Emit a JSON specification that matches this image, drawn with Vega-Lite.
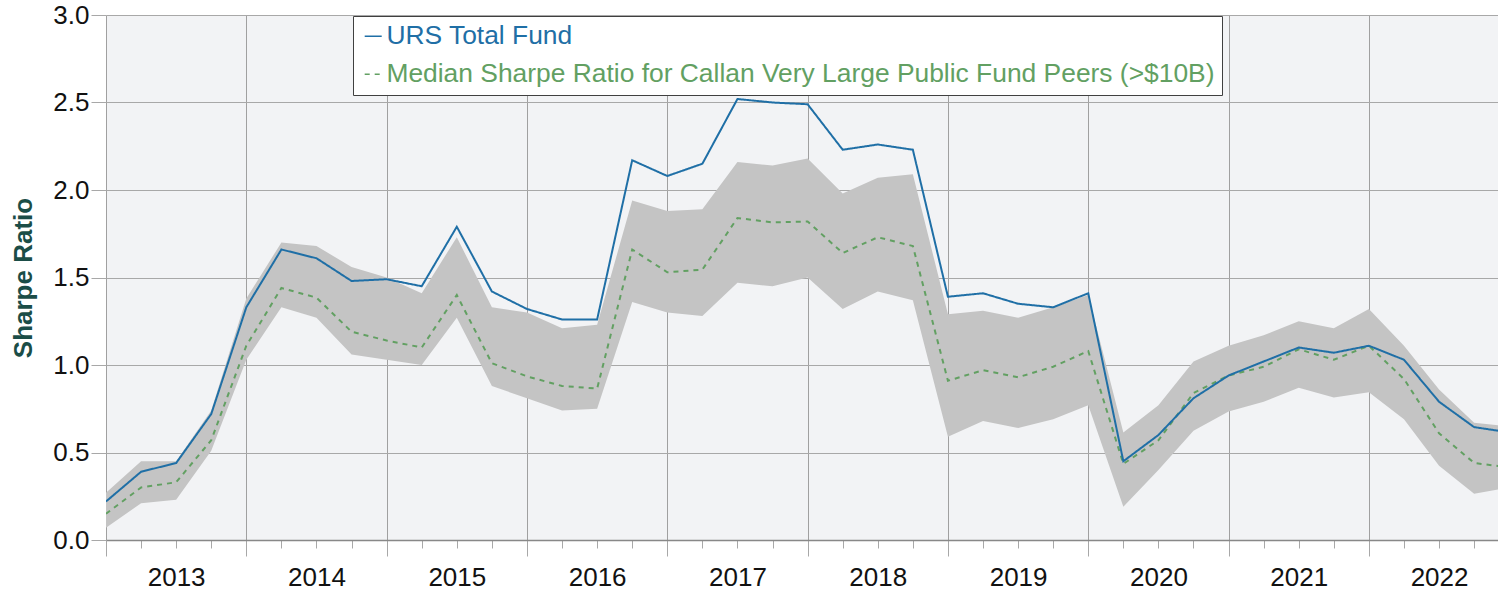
{
  "$schema": "https://vega.github.io/schema/vega-lite/v6.json",
  "width": 1392,
  "height": 525,
  "autosize": {"type": "none"},
  "padding": {"left": 106, "top": 15, "right": 0, "bottom": 55},
  "background": "white",
  "config": {
    "font": "Liberation Sans",
    "view": {"stroke": null, "fill": "#f2f3f5"}
  },
  "data": {
    "values": [
      {"q": 2013.00, "urs": 0.22, "median": 0.15, "low": 0.07, "high": 0.27},
      {"q": 2013.25, "urs": 0.39, "median": 0.30, "low": 0.21, "high": 0.45},
      {"q": 2013.50, "urs": 0.44, "median": 0.33, "low": 0.23, "high": 0.45},
      {"q": 2013.75, "urs": 0.72, "median": 0.57, "low": 0.51, "high": 0.74},
      {"q": 2014.00, "urs": 1.33, "median": 1.11, "low": 1.03, "high": 1.38},
      {"q": 2014.25, "urs": 1.66, "median": 1.44, "low": 1.33, "high": 1.70},
      {"q": 2014.50, "urs": 1.61, "median": 1.385, "low": 1.27, "high": 1.68},
      {"q": 2014.75, "urs": 1.48, "median": 1.19, "low": 1.06, "high": 1.56},
      {"q": 2015.00, "urs": 1.49, "median": 1.14, "low": 1.03, "high": 1.50},
      {"q": 2015.25, "urs": 1.45, "median": 1.10, "low": 1.00, "high": 1.41},
      {"q": 2015.50, "urs": 1.79, "median": 1.40, "low": 1.27, "high": 1.73},
      {"q": 2015.75, "urs": 1.42, "median": 1.01, "low": 0.88, "high": 1.33},
      {"q": 2016.00, "urs": 1.32, "median": 0.935, "low": 0.81, "high": 1.30},
      {"q": 2016.25, "urs": 1.26, "median": 0.88, "low": 0.74, "high": 1.21},
      {"q": 2016.50, "urs": 1.26, "median": 0.865, "low": 0.75, "high": 1.23},
      {"q": 2016.75, "urs": 2.17, "median": 1.66, "low": 1.36, "high": 1.94},
      {"q": 2017.00, "urs": 2.08, "median": 1.53, "low": 1.30, "high": 1.88},
      {"q": 2017.25, "urs": 2.15, "median": 1.545, "low": 1.28, "high": 1.89},
      {"q": 2017.50, "urs": 2.52, "median": 1.84, "low": 1.47, "high": 2.16},
      {"q": 2017.75, "urs": 2.50, "median": 1.815, "low": 1.45, "high": 2.14},
      {"q": 2018.00, "urs": 2.49, "median": 1.82, "low": 1.50, "high": 2.18},
      {"q": 2018.25, "urs": 2.23, "median": 1.64, "low": 1.32, "high": 1.98},
      {"q": 2018.50, "urs": 2.26, "median": 1.73, "low": 1.42, "high": 2.07},
      {"q": 2018.75, "urs": 2.23, "median": 1.68, "low": 1.37, "high": 2.09},
      {"q": 2019.00, "urs": 1.39, "median": 0.91, "low": 0.59, "high": 1.29},
      {"q": 2019.25, "urs": 1.41, "median": 0.97, "low": 0.68, "high": 1.31},
      {"q": 2019.50, "urs": 1.35, "median": 0.93, "low": 0.64, "high": 1.27},
      {"q": 2019.75, "urs": 1.33, "median": 0.99, "low": 0.69, "high": 1.33},
      {"q": 2020.00, "urs": 1.41, "median": 1.08, "low": 0.77, "high": 1.40},
      {"q": 2020.25, "urs": 0.45, "median": 0.435, "low": 0.19, "high": 0.615},
      {"q": 2020.50, "urs": 0.60, "median": 0.57, "low": 0.40, "high": 0.77},
      {"q": 2020.75, "urs": 0.81, "median": 0.84, "low": 0.625, "high": 1.02},
      {"q": 2021.00, "urs": 0.94, "median": 0.94, "low": 0.735, "high": 1.11},
      {"q": 2021.25, "urs": 1.02, "median": 0.99, "low": 0.79, "high": 1.17},
      {"q": 2021.50, "urs": 1.10, "median": 1.09, "low": 0.87, "high": 1.25},
      {"q": 2021.75, "urs": 1.07, "median": 1.03, "low": 0.815, "high": 1.21},
      {"q": 2022.00, "urs": 1.11, "median": 1.11, "low": 0.845, "high": 1.32},
      {"q": 2022.25, "urs": 1.03, "median": 0.92, "low": 0.69, "high": 1.11},
      {"q": 2022.50, "urs": 0.79, "median": 0.61, "low": 0.425, "high": 0.86},
      {"q": 2022.75, "urs": 0.645, "median": 0.44, "low": 0.265, "high": 0.67},
      {"q": 2023.00, "urs": 0.615, "median": 0.415, "low": 0.30, "high": 0.65}
    ]
  },
  "encoding": {
    "x": {
      "field": "q",
      "type": "quantitative",
      "scale": {"domain": [2013, 2022.92], "nice": false, "zero": false},
      "axis": {
        "title": null,
        "values": [2013, 2013.25, 2013.5, 2013.75, 2014, 2014.25, 2014.5, 2014.75, 2015, 2015.25, 2015.5, 2015.75, 2016, 2016.25, 2016.5, 2016.75, 2017, 2017.25, 2017.5, 2017.75, 2018, 2018.25, 2018.5, 2018.75, 2019, 2019.25, 2019.5, 2019.75, 2020, 2020.25, 2020.5, 2020.75, 2021, 2021.25, 2021.5, 2021.75, 2022, 2022.25, 2022.5, 2022.75],
        "labelExpr": "datum.value % 1 == 0.5 ? '' + floor(datum.value) : ''",
        "labelFontSize": 26,
        "labelColor": "#111111",
        "labelPadding": 16,
        "labelFlush": false,
        "labelOverlap": false,
        "grid": true,
        "gridColor": "#a0a0a0",
        "gridWidth": 1,
        "gridOpacity": {"condition": {"test": "datum.value % 1 == 0", "value": 1}, "value": 0},
        "tickColor": "#a8a8a8",
        "tickSize": {"condition": {"test": "datum.value % 1 == 0", "value": 16}, "value": 8},
        "domainColor": "#888888",
        "domainWidth": 1.5
      }
    }
  },
  "layer": [
    {
      "mark": {"type": "area", "color": "#c4c4c4", "opacity": 1, "clip": true},
      "encoding": {
        "y": {
          "field": "low",
          "type": "quantitative",
          "scale": {"domain": [0, 3], "nice": false},
          "axis": {
            "title": "Sharpe Ratio",
            "titleFontSize": 26,
            "titleFontWeight": "bold",
            "titleColor": "#1b4d47",
            "titlePadding": 16,
            "values": [0, 0.5, 1, 1.5, 2, 2.5, 3],
            "format": ".1f",
            "labelFontSize": 26,
            "labelColor": "#111111",
            "labelPadding": 2,
            "tickSize": 15,
            "tickColor": "#a8a8a8",
            "grid": true,
            "gridColor": "#a8a8a8",
            "domain": false
          }
        },
        "y2": {"field": "high"}
      }
    },
    {
      "transform": [{"fold": ["median", "urs"], "as": ["series", "value"]}],
      "mark": {"type": "line", "strokeWidth": 2, "clip": true},
      "encoding": {
        "y": {"field": "value", "type": "quantitative"},
        "color": {
          "field": "series",
          "type": "nominal",
          "scale": {"domain": ["urs", "median"], "range": ["#1f6fa6", "#62a062"]},
          "legend": {
            "title": null,
            "orient": "none",
            "legendX": 247,
            "legendY": 1,
            "direction": "vertical",
            "fillColor": "white",
            "strokeColor": "#404040",
            "padding": 7,
            "symbolType": "stroke",
            "symbolSize": 289,
            "symbolStrokeWidth": 1.5,
            "labelFontSize": 26.4,
            "labelLimit": 1200,
            "labelOffset": 0,
            "rowPadding": 11,
            "labelExpr": "datum.value == 'urs' ? 'URS Total Fund' : 'Median Sharpe Ratio for Callan Very Large Public Fund Peers (>$10B)\u00a0\u00a0\u00a0'",
            "encode": {
              "labels": {"update": {"fill": {"signal": "datum.value == 'urs' ? '#1f6fa6' : '#62a062'"}}}
            }
          }
        },
        "strokeDash": {
          "field": "series",
          "type": "nominal",
          "scale": {"domain": ["urs", "median"], "range": [[1, 0], [5, 5]]}
        }
      }
    }
  ]
}
